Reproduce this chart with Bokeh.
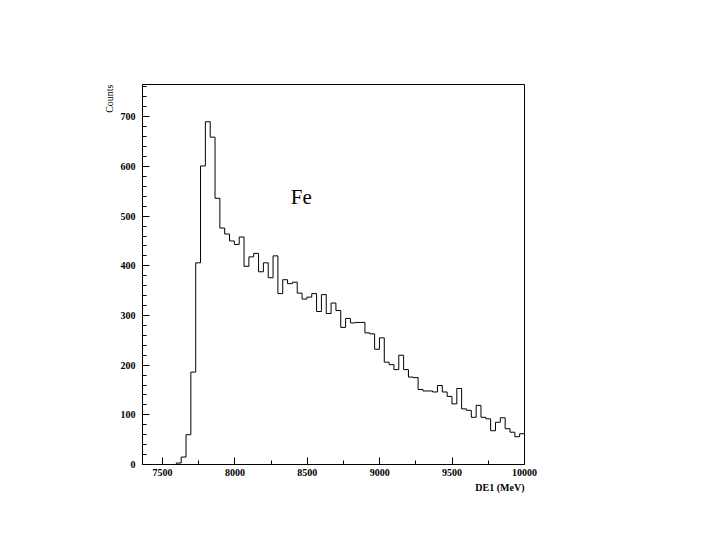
import numpy as np
from bokeh.plotting import figure
from bokeh.models import Range1d, FixedTicker, Label, Title
from bokeh.embed import file_html
from bokeh.resources import INLINE

# ---- data ----
x_min = 7362.0
x_max = 10000.0
n_bins = 79
counts = [0, 0, 0, 0, 0, 0, 0, 3, 15, 60,
          186, 406, 601, 690, 659, 536, 476, 464, 450, 443,
          458, 399, 418, 425, 388, 406, 376, 420, 344, 372,
          364, 367, 345, 333, 337, 344, 308, 342, 304, 325,
          310, 276, 294, 285, 286, 286, 265, 263, 232, 255,
          206, 201, 191, 220, 191, 176, 175, 151, 148, 148,
          146, 159, 146, 137, 122, 153, 112, 109, 95, 119,
          95, 92, 68, 85, 94, 72, 65, 56, 62]
x_major_ticks = [7500, 8000, 8500, 9000, 9500, 10000]
x_minor_ticks = [7750, 8250, 8750, 9250, 9750]
y_major_ticks = [0, 100, 200, 300, 400, 500, 600, 700]
y_minor_ticks = [v for v in range(0, 761, 20) if v % 100 != 0]
y_max = 765
annotation_text = "Fe"
x_label = "DE1 (MeV)"
y_label = "Counts"

# ---- step outline from bins ----
edges = np.linspace(x_min, x_max, n_bins + 1)
xs = [edges[0]]
ys = [0]
for i, c in enumerate(counts):
    xs += [edges[i], edges[i + 1]]
    ys += [c, c]
xs.append(edges[-1])
ys.append(0)

p = figure(frame_width=382, frame_height=380,
           min_border_left=142, min_border_top=84,
           min_border_right=180, min_border_bottom=60,
           x_range=Range1d(x_min, x_max), y_range=Range1d(0, y_max),
           output_backend="svg", toolbar_location=None)

p.line(xs, ys, line_color="black", line_width=1)

p.xgrid.visible = False
p.ygrid.visible = False
p.outline_line_color = "black"
p.outline_line_width = 1
p.outline_line_alpha = 1.0
p.background_fill_color = "white"
p.border_fill_color = "white"

p.xaxis.ticker = FixedTicker(ticks=x_major_ticks, minor_ticks=x_minor_ticks)
p.yaxis.ticker = FixedTicker(ticks=y_major_ticks, minor_ticks=y_minor_ticks)
for ax in (p.xaxis, p.yaxis):
    ax.axis_line_color = "black"
    ax.major_tick_line_color = "black"
    ax.minor_tick_line_color = "black"
    ax.major_tick_in = 7
    ax.major_tick_out = 0
    ax.minor_tick_in = 4
    ax.minor_tick_out = 0
    ax.major_label_text_font = "Liberation Serif"
    ax.major_label_text_font_style = "bold"
    ax.major_label_text_font_size = "10px"
    ax.major_label_text_color = "black"
p.xaxis.major_label_standoff = 4
p.yaxis.major_label_standoff = 7

p.add_layout(Title(text=y_label, align="right", text_font="Liberation Serif",
                   text_font_style="normal", text_font_size="10px",
                   text_color="black", standoff=5), "left")
p.add_layout(Title(text=x_label, align="right", text_font="Liberation Serif",
                   text_font_style="bold", text_font_size="10px",
                   text_color="black", standoff=2), "below")
p.add_layout(Label(x=8386, y=539, text=annotation_text, text_align="left",
                   text_baseline="alphabetic", text_font="Liberation Serif",
                   text_font_size="21px", text_color="black"))

open("out.html", "w").write(file_html(p, INLINE))
